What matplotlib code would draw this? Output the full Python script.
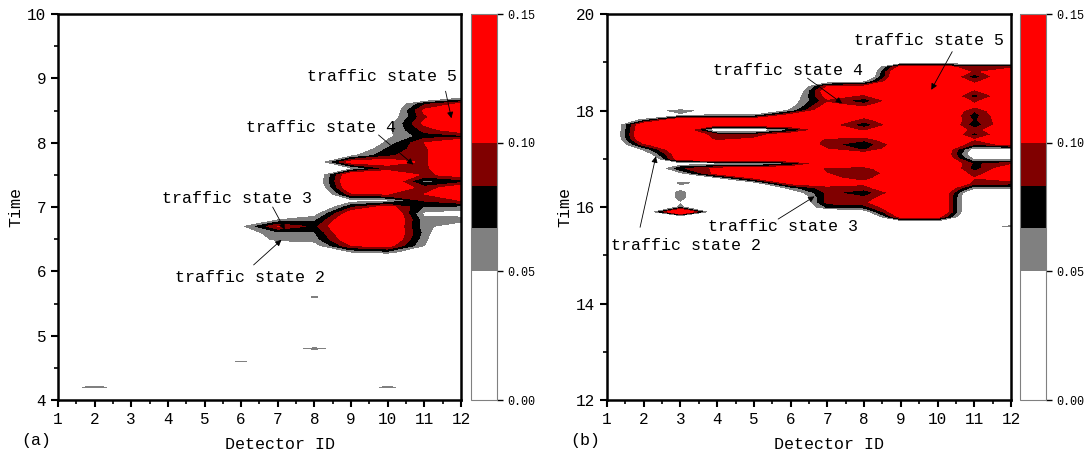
import numpy as np
import matplotlib
matplotlib.use('Agg')
import matplotlib.pyplot as plt
from matplotlib.ticker import MultipleLocator

plt.rcParams['font.family'] = ['Liberation Mono', 'DejaVu Sans Mono']

# Detector IDs (columns of every row below)
detectors = np.arange(1, 13)

# Contour levels and band colours
levels = [0.0, 0.05, 0.0667, 0.0833, 0.10, 0.15]
band_colors = ['#ffffff', '#808080', '#000000', '#800000', '#ff0000']
cbar_ticks = [0.0, 0.05, 0.10, 0.15]

# Panel (a): values x 0.001, one row per time stamp (rows not listed are 0)
a_times = [8.7, 8.6, 8.5, 8.4, 8.3, 8.2, 8.1, 8.0, 7.9, 7.8, 7.7, 7.6, 7.5,
           7.4, 7.3, 7.2, 7.1, 7.0, 6.9, 6.8, 6.7, 6.6, 6.5, 6.4, 6.3,
           5.6, 4.8, 4.6, 4.2]
a_rows = [
    [0, 0, 0, 0, 0, 0, 0, 0, 0, 0, 10, 45],
    [0, 0, 0, 0, 0, 0, 0, 0, 0, 20, 80, 105],
    [0, 0, 0, 0, 0, 0, 0, 0, 0, 20, 105, 140],
    [0, 0, 0, 0, 0, 0, 0, 0, 0, 30, 95, 140],
    [0, 0, 0, 0, 0, 0, 0, 0, 0, 40, 105, 135],
    [0, 0, 0, 0, 0, 0, 0, 0, 0, 45, 90, 115],
    [0, 0, 0, 0, 0, 0, 0, 0, 0, 45, 75, 78],
    [0, 0, 0, 0, 0, 0, 0, 0, 5, 55, 100, 125],
    [0, 0, 0, 0, 0, 0, 0, 0, 20, 70, 95, 140],
    [0, 0, 0, 0, 0, 0, 0, 10, 45, 80, 95, 140],
    [0, 0, 0, 0, 0, 0, 0, 25, 110, 115, 95, 140],
    [0, 0, 0, 0, 0, 0, 0, 5, 45, 85, 95, 130],
    [0, 0, 0, 0, 0, 0, 0, 20, 125, 130, 95, 110],
    [0, 0, 0, 0, 0, 0, 0, 25, 130, 125, 60, 75],
    [0, 0, 0, 0, 0, 0, 0, 15, 125, 125, 90, 115],
    [0, 0, 0, 0, 0, 0, 0, 5, 95, 100, 100, 130],
    [0, 0, 0, 0, 0, 0, 0, 0, 40, 45, 85, 100],
    [0, 0, 0, 0, 0, 0, 0, 15, 80, 110, 65, 60],
    [0, 0, 0, 0, 0, 0, 10, 40, 115, 135, 45, 40],
    [0, 0, 0, 0, 0, 0, 50, 62, 130, 140, 55, 58],
    [0, 0, 0, 0, 0, 45, 101, 78, 135, 135, 55, 35],
    [0, 0, 0, 0, 0, 35, 62, 65, 130, 135, 60, 0],
    [0, 0, 0, 0, 0, 20, 58, 58, 120, 130, 55, 0],
    [0, 0, 0, 0, 0, 0, 20, 40, 100, 110, 50, 0],
    [0, 0, 0, 0, 0, 0, 0, 10, 50, 60, 20, 0],
    [0, 0, 0, 0, 0, 0, 0, 55, 0, 0, 0, 0],
    [0, 0, 0, 0, 0, 0, 36, 56, 36, 0, 0, 0],
    [0, 0, 0, 0, 35, 53, 35, 0, 0, 0, 0, 0],
    [40, 55, 40, 0, 0, 0, 0, 0, 40, 53, 40, 0],
]

# Panel (b): values x 0.001
b_times = [19.0, 18.9, 18.8, 18.7, 18.6, 18.5, 18.4, 18.3, 18.2, 18.1, 18.0,
           17.9, 17.8, 17.7, 17.6, 17.5, 17.4, 17.3, 17.2, 17.1, 17.0, 16.9,
           16.8, 16.7, 16.6, 16.5, 16.4, 16.3, 16.2, 16.1, 16.0, 15.9, 15.8,
           15.7, 15.6]
b_rows = [
    [0, 0, 0, 0, 0, 0, 0, 0, 25, 25, 25, 20],
    [0, 0, 0, 0, 0, 0, 0, 0, 110, 115, 85, 95],
    [0, 0, 0, 0, 0, 0, 0, 0, 140, 140, 95, 120],
    [0, 0, 0, 0, 0, 0, 0, 10, 140, 140, 72, 130],
    [0, 0, 0, 0, 0, 0, 30, 45, 140, 140, 95, 130],
    [0, 0, 0, 0, 0, 0, 100, 105, 140, 140, 110, 135],
    [0, 0, 0, 0, 0, 10, 120, 110, 140, 140, 95, 130],
    [0, 0, 0, 0, 0, 25, 110, 95, 135, 140, 75, 125],
    [0, 0, 0, 0, 0, 35, 95, 72, 120, 140, 95, 130],
    [0, 0, 0, 0, 0, 40, 110, 95, 130, 140, 105, 135],
    [0, 35, 58, 35, 0, 55, 125, 120, 140, 140, 85, 130],
    [0, 10, 45, 55, 55, 110, 130, 110, 135, 140, 75, 130],
    [0, 60, 130, 125, 125, 130, 125, 90, 125, 140, 80, 120],
    [0, 125, 135, 100, 110, 125, 110, 72, 120, 140, 72, 125],
    [0, 130, 130, 20, 20, 60, 120, 95, 135, 140, 90, 130],
    [0, 135, 125, 90, 88, 120, 115, 115, 140, 140, 78, 125],
    [0, 125, 130, 95, 105, 130, 95, 88, 125, 140, 100, 130],
    [0, 95, 135, 120, 130, 130, 90, 70, 115, 140, 85, 110],
    [0, 55, 130, 130, 135, 135, 100, 80, 120, 140, 40, 40],
    [0, 30, 120, 130, 135, 135, 130, 110, 140, 140, 25, 30],
    [0, 0, 120, 125, 130, 135, 130, 125, 140, 140, 45, 40],
    [0, 0, 35, 40, 42, 62, 120, 115, 140, 140, 80, 95],
    [0, 0, 80, 105, 110, 125, 95, 92, 125, 140, 75, 120],
    [0, 0, 45, 110, 130, 130, 100, 82, 120, 140, 90, 125],
    [0, 0, 0, 45, 100, 125, 105, 92, 125, 140, 100, 115],
    [0, 0, 55, 35, 40, 110, 110, 105, 140, 140, 95, 90],
    [0, 0, 40, 0, 0, 60, 95, 92, 130, 140, 55, 60],
    [0, 0, 58, 0, 0, 30, 88, 72, 115, 140, 10, 10],
    [0, 0, 58, 0, 0, 0, 90, 85, 125, 140, 0, 0],
    [0, 0, 48, 0, 0, 0, 90, 95, 135, 140, 0, 0],
    [0, 0, 55, 0, 0, 0, 70, 75, 130, 140, 0, 0],
    [0, 10, 150, 10, 0, 0, 10, 35, 130, 140, 0, 0],
    [0, 0, 20, 0, 0, 0, 0, 0, 110, 110, 0, 0],
    [0, 0, 0, 0, 0, 0, 0, 0, 35, 40, 0, 0],
    [0, 0, 0, 0, 0, 0, 0, 0, 0, 0, 35, 55],
]

# Annotation labels: (text x, text y, arrow tip x, arrow tip y)
a_labels = {
    'traffic state 5': (9.84, 9.03, 11.74, 8.38),
    'traffic state 4': (8.18, 8.24, 10.70, 7.66),
    'traffic state 3': (5.90, 7.14, 7.19, 6.65),
    'traffic state 2': (6.24, 5.90, 7.10, 6.49),
}
b_labels = {
    'traffic state 5': (9.78, 19.45, 9.83, 18.43),
    'traffic state 4': (5.94, 18.83, 7.40, 18.15),
    'traffic state 3': (5.80, 15.60, 6.65, 16.22),
    'traffic state 2': (3.15, 15.20, 2.33, 17.05),
}


def build_grid(t0, t1, row_times, rows):
    '''
    Put the listed rows on a regular 0.1 h time axis (other rows are 0)
    '''
    times = np.round(np.arange(t0, t1 + 1e-6, 0.1), 1)
    grid = np.zeros((len(times), len(detectors)))
    for t, row in zip(row_times, rows):
        grid[np.argmin(np.abs(times - t))] = row
    return times, grid / 1000.0


def draw_panel(ax, cax, times, grid, ylim, ymajor, yminor, labels, tag,
               arrow_starts):
    cs = ax.contourf(detectors, times, grid, levels=levels, colors=band_colors)
    ax.set_xlim(1, 12)
    ax.set_ylim(*ylim)
    ax.xaxis.set_major_locator(MultipleLocator(1))
    ax.xaxis.set_minor_locator(MultipleLocator(0.5))
    ax.yaxis.set_major_locator(MultipleLocator(ymajor))
    ax.yaxis.set_minor_locator(MultipleLocator(yminor))
    ax.tick_params(which='major', direction='out', length=5, width=1.5,
                   labelsize=11.5)
    ax.tick_params(which='minor', direction='out', length=3, width=1.2)
    for sp in ax.spines.values():
        sp.set_linewidth(1.8)
    ax.set_xlabel('Detector ID', fontsize=12)
    ax.set_ylabel('Time', fontsize=12)
    ax.xaxis.set_label_coords(0.55, -0.095)
    ax.yaxis.set_label_coords(-0.085, 0.5)
    ax.text(-0.055, -0.105, tag, transform=ax.transAxes, fontsize=12,
            ha='center', va='center')

    for (txt, (tx, ty, px, py)), (sx, sy) in zip(labels.items(), arrow_starts):
        ax.text(tx, ty, txt, fontsize=12, ha='center', va='center')
        ax.annotate('', xy=(px, py), xytext=(sx, sy),
                    arrowprops=dict(arrowstyle='-|>', color='black', lw=0.6,
                                    mutation_scale=9, shrinkA=0, shrinkB=0))

    # Colorbar
    cb = plt.colorbar(cs, cax=cax, ticks=cbar_ticks, spacing='proportional')
    cb.ax.yaxis.set_major_formatter(plt.FormatStrFormatter('%.2f'))
    cb.ax.tick_params(direction='out', length=4, width=1.0, labelsize=8.5)
    cb.outline.set_edgecolor('#808080')
    cb.outline.set_linewidth(0.8)
    return cs


a_t, a_grid = build_grid(4.0, 10.0, a_times, a_rows)
b_t, b_grid = build_grid(12.0, 20.0, b_times, b_rows)

fig = plt.figure(figsize=(10.9, 4.57), dpi=100)
ax_a = fig.add_axes([0.0532, 0.1247, 0.3697, 0.8446])
cax_a = fig.add_axes([0.4321, 0.1247, 0.0239, 0.8446])
ax_b = fig.add_axes([0.5569, 0.1247, 0.3706, 0.8446])
cax_b = fig.add_axes([0.9358, 0.1247, 0.0239, 0.8446])

draw_panel(ax_a, cax_a, a_t, a_grid, (4, 10), 1, 0.5, a_labels, '(a)',
           [(11.58, 8.80), (9.75, 8.12), (6.86, 7.00), (6.34, 6.10)])
draw_panel(ax_b, cax_b, b_t, b_grid, (12, 20), 2, 1, b_labels, '(b)',
           [(10.40, 19.22), (6.46, 18.67), (5.66, 15.75), (1.90, 15.58)])

plt.savefig('out.png', dpi=100)
